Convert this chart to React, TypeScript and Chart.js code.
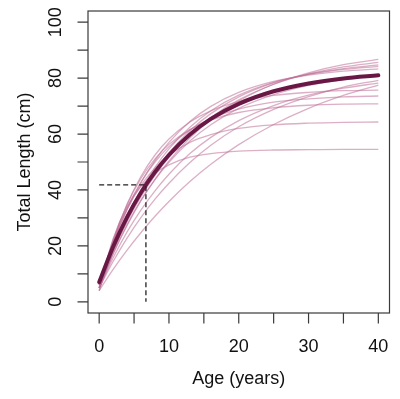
import React, { useEffect, useRef } from "react";
import { Chart, registerables } from "chart.js";

Chart.register(...registerables);

const ages = [0, 2, 4, 6, 8, 10, 13, 16, 20, 25, 30, 35, 40];

// Mean growth curve (thick)
const meanLength = [7, 19.7, 30.3, 39.1, 46.4, 52.5, 59.8, 65.4, 70.8, 75.3, 78.1, 79.9, 81.0];

// Individual growth curves (thin)
const curve1 = [5, 17.0, 27.3, 36.2, 43.8, 50.4, 58.6, 65.1, 71.8, 77.8, 81.9, 84.8, 86.7];
const curve2 = [6, 18.3, 28.7, 37.6, 45.2, 51.7, 59.7, 65.9, 72.2, 77.8, 81.5, 84.0, 85.6];
const curve3 = [4, 17.7, 29.1, 38.6, 46.6, 53.3, 61.2, 67.3, 73.3, 78.3, 81.4, 83.4, 84.7];
const curve4 = [5, 19.0, 30.6, 40.2, 48.1, 54.7, 62.4, 68.3, 73.9, 78.5, 81.3, 83.1, 84.2];
const curve5 = [6, 20.9, 32.9, 42.7, 50.6, 57.0, 64.5, 69.9, 74.9, 78.8, 81.1, 82.5, 83.3];
const curve6 = [5, 17.3, 27.6, 36.4, 43.7, 49.9, 57.5, 63.3, 69.2, 74.1, 77.4, 79.5, 80.9];
const curve7 = [5, 14.4, 22.8, 30.2, 36.7, 42.4, 49.8, 56.0, 62.6, 68.8, 73.4, 76.8, 79.2];
const curve8 = [4, 11.6, 18.5, 24.8, 30.6, 35.9, 43.0, 49.2, 56.2, 63.4, 69.2, 73.8, 77.5];
const curve9 = [4, 21.6, 34.9, 44.9, 52.5, 58.2, 64.3, 68.3, 71.6, 73.8, 74.9, 75.5, 75.7];
const curve10 = [6, 21.6, 33.6, 42.8, 50.0, 55.5, 61.5, 65.5, 68.9, 71.4, 72.6, 73.3, 73.6];
const curve11 = [5, 22.1, 34.8, 44.2, 51.1, 56.3, 61.6, 65.0, 67.7, 69.4, 70.3, 70.7, 70.8];
const curve12 = [5, 21.3, 33.1, 41.7, 47.9, 52.4, 57.0, 59.8, 62.0, 63.3, 63.9, 64.2, 64.3];
const curve13 = [5, 22.6, 34.0, 41.3, 46.0, 49.0, 51.7, 53.0, 53.9, 54.3, 54.4, 54.5, 54.5];
const curve14 = [5, 15.7, 25.0, 32.9, 39.7, 45.6, 53.0, 58.8, 64.8, 70.2, 73.9, 76.4, 78.2];

const individualCurves = [
  curve1, curve2, curve3, curve4, curve5, curve6, curve7,
  curve8, curve9, curve10, curve11, curve12, curve13, curve14,
];

// Reference lines (dashed): age at which the mean reaches the marked length
const refAge = [0, 6.7, 6.7];
const refLength = [41.8, 41.8, 0];

// Axis ticks
const xTicks = [0, 5, 10, 15, 20, 25, 30, 35, 40];
const xTickLabels = [0, 10, 20, 30, 40];
const yTicks = [0, 10, 20, 30, 40, 50, 60, 70, 80, 90, 100];
const yTickLabels = [0, 20, 40, 60, 80, 100];

const xTitle = "Age (years)";
const yTitle = "Total Length (cm)";

const FONT = '18px "Liberation Sans", Arial, sans-serif';
const AXIS_COLOR = "#3a3a3a";

const rAxesPlugin = {
  id: "rAxes",
  afterDraw(chart: any) {
    const { ctx, chartArea, scales } = chart;
    const xs = scales.x;
    const ys = scales.y;
    ctx.save();
    // box
    ctx.strokeStyle = AXIS_COLOR;
    ctx.lineWidth = 1.2;
    ctx.strokeRect(chartArea.left, chartArea.top, chartArea.right - chartArea.left, chartArea.bottom - chartArea.top);

    // x ticks
    ctx.beginPath();
    for (const v of xTicks) {
      const px = xs.getPixelForValue(v);
      ctx.moveTo(px, chartArea.bottom);
      ctx.lineTo(px, chartArea.bottom + 10.5);
    }
    // y ticks
    for (const v of yTicks) {
      const py = ys.getPixelForValue(v);
      ctx.moveTo(chartArea.left, py);
      ctx.lineTo(chartArea.left - 10.5, py);
    }
    ctx.stroke();

    ctx.fillStyle = "#111";
    ctx.font = FONT;
    ctx.textAlign = "center";
    ctx.textBaseline = "middle";
    for (const v of xTickLabels) {
      ctx.fillText(String(v), xs.getPixelForValue(v), chartArea.bottom + 34);
    }
    for (const v of yTickLabels) {
      ctx.save();
      ctx.translate(chartArea.left - 32, ys.getPixelForValue(v));
      ctx.rotate(-Math.PI / 2);
      ctx.fillText(String(v), 0, 0);
      ctx.restore();
    }
    // titles
    const cx = (chartArea.left + chartArea.right) / 2;
    const cy = (chartArea.top + chartArea.bottom) / 2;
    ctx.fillText(xTitle, cx, chartArea.bottom + 66);
    ctx.save();
    ctx.translate(25, cy);
    ctx.rotate(-Math.PI / 2);
    ctx.fillText(yTitle, 0, 0);
    ctx.restore();
    ctx.restore();
  },
};

export default function App() {
  const ref = useRef<HTMLCanvasElement | null>(null);

  useEffect(() => {
    document.body.style.margin = "0";
    const canvas = ref.current;
    if (!canvas) return;

    const thin = individualCurves.map((c, i) => ({
      label: "fish " + (i + 1),
      data: ages.map((a, j) => ({ x: a, y: c[j] })),
      borderColor: "rgba(190,110,150,0.55)",
      borderWidth: 1.3,
      pointRadius: 0,
      fill: false,
      cubicInterpolationMode: "monotone" as const,
      order: 3,
    }));

    const chart = new Chart(canvas, {
      type: "line",
      data: {
        datasets: [
          ...thin,
          {
            label: "mean",
            data: ages.map((a, j) => ({ x: a, y: meanLength[j] })),
            borderColor: "#691845",
            borderWidth: 4,
            pointRadius: 0,
            fill: false,
            cubicInterpolationMode: "monotone" as const,
            borderCapStyle: "round" as const,
            order: 1,
          },
          {
            label: "reference",
            data: refAge.map((a, j) => ({ x: a, y: refLength[j] })),
            borderColor: "#222",
            borderWidth: 1.3,
            borderDash: [5, 3],
            pointRadius: 0,
            fill: false,
            tension: 0,
            order: 0,
          },
        ] as any,
      },
      options: {
        responsive: false,
        animation: false,
        devicePixelRatio: 1,
        layout: { padding: { left: 88, right: 10.5, top: 11, bottom: 86 } },
        plugins: { legend: { display: false }, tooltip: { enabled: false } },
        scales: {
          x: { type: "linear", min: -1.6, max: 41.6, display: false },
          y: { type: "linear", min: -4, max: 104, display: false },
        },
      },
      plugins: [rAxesPlugin],
    });
    return () => chart.destroy();
  }, []);

  return (
    <div style={{ width: 400, height: 399, background: "#fff" }}>
      <canvas ref={ref} width={400} height={399} style={{ display: "block" }} />
    </div>
  );
}
